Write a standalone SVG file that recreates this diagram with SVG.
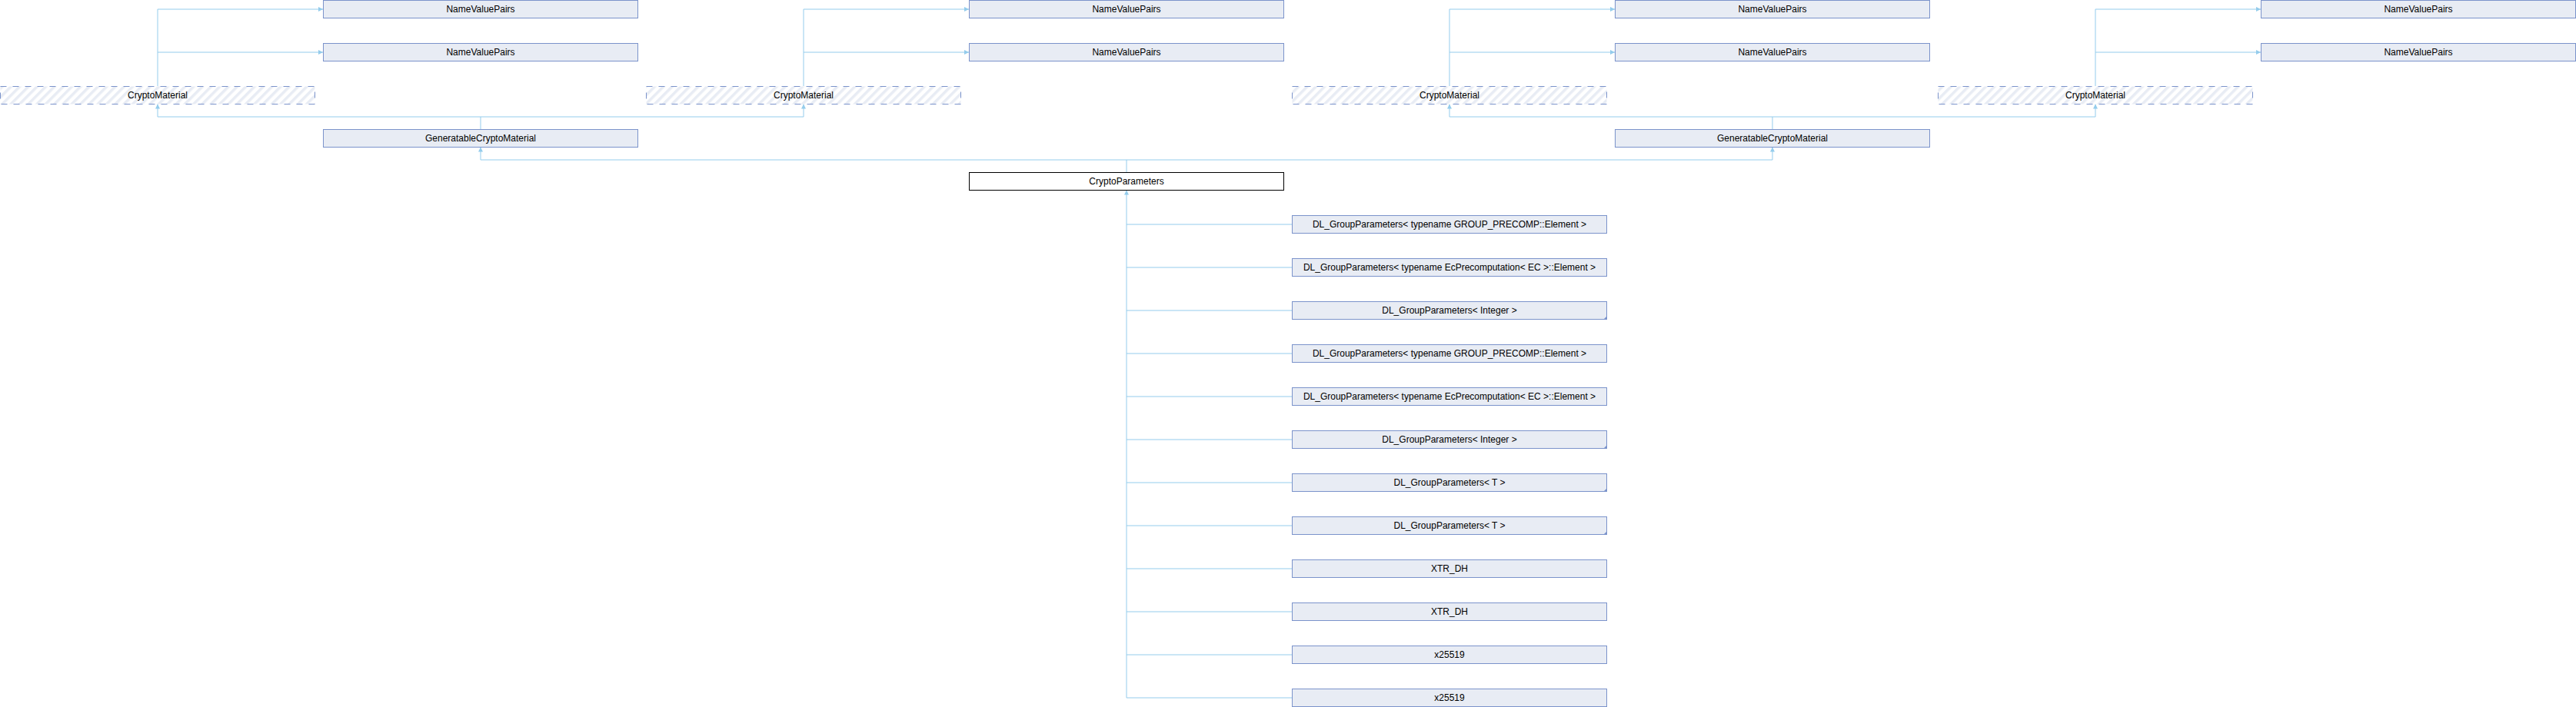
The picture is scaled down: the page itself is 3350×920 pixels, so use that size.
<svg xmlns="http://www.w3.org/2000/svg" width="3350" height="920" viewBox="0 0 3350 920">
<style>
.n rect.b{fill:#E8ECF4;stroke:#7B93CB;stroke-width:1}
.n text,.h text,.c text{font-family:"Liberation Sans",Arial,sans-serif;font-size:12px;fill:#000;text-anchor:middle}
.h rect.b{fill:url(#hatch);stroke:#7B93CB;stroke-width:1;stroke-dasharray:8 8}
.c rect.b{fill:#fff;stroke:#000;stroke-width:1}
.corner{fill:#7B93CB}
#edges path{fill:none;stroke:#94CCEC;stroke-width:1}
#edges path.a{marker-end:url(#arr)}
</style>
<defs>
<pattern id="hatch" patternUnits="userSpaceOnUse" width="8" height="8" patternTransform="rotate(45)">
<rect x="0" y="0" width="8" height="8" fill="#fff"/>
<rect x="0" y="0" width="3.5" height="8" fill="#E8ECF4"/>
</pattern>
<marker id="arr" markerUnits="userSpaceOnUse" markerWidth="8" markerHeight="8" refX="6" refY="3" orient="auto">
<path d="M0,0 L6,3 L0,6 z" fill="#94CCEC"/>
</marker>
</defs>
<rect width="3350" height="920" fill="#fff"/>
<g id="edges">
<path class="a" d="M205,112 V12 H420"/>
<path class="a" d="M205,68 H420"/>
<path class="a" d="M1045,112 V12 H1260"/>
<path class="a" d="M1045,68 H1260"/>
<path class="a" d="M1885,112 V12 H2100"/>
<path class="a" d="M1885,68 H2100"/>
<path class="a" d="M2725,112 V12 H2940"/>
<path class="a" d="M2725,68 H2940"/>
<path class="a" d="M625,168 V152 H205 V135.5"/>
<path class="a" d="M625,152 H1045 V135.5"/>
<path class="a" d="M2305,168 V152 H1885 V135.5"/>
<path class="a" d="M2305,152 H2725 V135.5"/>
<path class="a" d="M1465,224 V208 H625 V191.5"/>
<path class="a" d="M1465,208 H2305 V191.5"/>
<path class="a" d="M1680,908 H1465 V247.5"/>
<path d="M1680,292 H1465"/>
<path d="M1680,348 H1465"/>
<path d="M1680,404 H1465"/>
<path d="M1680,460 H1465"/>
<path d="M1680,516 H1465"/>
<path d="M1680,572 H1465"/>
<path d="M1680,628 H1465"/>
<path d="M1680,684 H1465"/>
<path d="M1680,740 H1465"/>
<path d="M1680,796 H1465"/>
<path d="M1680,852 H1465"/>
</g>
<g id="nvp1" class="n"><rect class="b" x="420.5" y="0.5" width="409" height="23"/><text x="625" y="16">NameValuePairs</text></g>
<g id="nvp2" class="n"><rect class="b" x="420.5" y="56.5" width="409" height="23"/><text x="625" y="72">NameValuePairs</text></g>
<g id="nvp3" class="n"><rect class="b" x="1260.5" y="0.5" width="409" height="23"/><text x="1465" y="16">NameValuePairs</text></g>
<g id="nvp4" class="n"><rect class="b" x="1260.5" y="56.5" width="409" height="23"/><text x="1465" y="72">NameValuePairs</text></g>
<g id="nvp5" class="n"><rect class="b" x="2100.5" y="0.5" width="409" height="23"/><text x="2305" y="16">NameValuePairs</text></g>
<g id="nvp6" class="n"><rect class="b" x="2100.5" y="56.5" width="409" height="23"/><text x="2305" y="72">NameValuePairs</text></g>
<g id="nvp7" class="n"><rect class="b" x="2940.5" y="0.5" width="409" height="23"/><text x="3145" y="16">NameValuePairs</text></g>
<g id="nvp8" class="n"><rect class="b" x="2940.5" y="56.5" width="409" height="23"/><text x="3145" y="72">NameValuePairs</text></g>
<g id="cm1" class="h"><rect class="b" x="0.5" y="112.5" width="409" height="23"/><text x="205" y="128">CryptoMaterial</text></g>
<g id="cm2" class="h"><rect class="b" x="840.5" y="112.5" width="409" height="23"/><text x="1045" y="128">CryptoMaterial</text></g>
<g id="cm3" class="h"><rect class="b" x="1680.5" y="112.5" width="409" height="23"/><text x="1885" y="128">CryptoMaterial</text></g>
<g id="cm4" class="h"><rect class="b" x="2520.5" y="112.5" width="409" height="23"/><text x="2725" y="128">CryptoMaterial</text></g>
<g id="gcm1" class="n"><rect class="b" x="420.5" y="168.5" width="409" height="23"/><text x="625" y="184">GeneratableCryptoMaterial</text></g>
<g id="gcm2" class="n"><rect class="b" x="2100.5" y="168.5" width="409" height="23"/><text x="2305" y="184">GeneratableCryptoMaterial</text></g>
<g id="cp" class="c"><rect class="b" x="1260.5" y="224.5" width="409" height="23"/><text x="1465" y="240">CryptoParameters</text></g>
<g id="dl1" class="n"><rect class="b" x="1680.5" y="280.5" width="409" height="23"/><text x="1885" y="296">DL_GroupParameters&lt; typename GROUP_PRECOMP::Element &gt;</text></g>
<g id="dl2" class="n"><rect class="b" x="1680.5" y="336.5" width="409" height="23"/><text x="1885" y="352">DL_GroupParameters&lt; typename EcPrecomputation&lt; EC &gt;::Element &gt;</text></g>
<g id="dl3" class="n"><rect class="b" x="1680.5" y="392.5" width="409" height="23"/><text x="1885" y="408">DL_GroupParameters&lt; Integer &gt;</text><path class="corner" d="M2090,411 V416 H2085 z"/></g>
<g id="dl4" class="n"><rect class="b" x="1680.5" y="448.5" width="409" height="23"/><text x="1885" y="464">DL_GroupParameters&lt; typename GROUP_PRECOMP::Element &gt;</text></g>
<g id="dl5" class="n"><rect class="b" x="1680.5" y="504.5" width="409" height="23"/><text x="1885" y="520">DL_GroupParameters&lt; typename EcPrecomputation&lt; EC &gt;::Element &gt;</text></g>
<g id="dl6" class="n"><rect class="b" x="1680.5" y="560.5" width="409" height="23"/><text x="1885" y="576">DL_GroupParameters&lt; Integer &gt;</text><path class="corner" d="M2090,579 V584 H2085 z"/></g>
<g id="dl7" class="n"><rect class="b" x="1680.5" y="616.5" width="409" height="23"/><text x="1885" y="632">DL_GroupParameters&lt; T &gt;</text><path class="corner" d="M2090,635 V640 H2085 z"/></g>
<g id="dl8" class="n"><rect class="b" x="1680.5" y="672.5" width="409" height="23"/><text x="1885" y="688">DL_GroupParameters&lt; T &gt;</text><path class="corner" d="M2090,691 V696 H2085 z"/></g>
<g id="xtr1" class="n"><rect class="b" x="1680.5" y="728.5" width="409" height="23"/><text x="1885" y="744">XTR_DH</text></g>
<g id="xtr2" class="n"><rect class="b" x="1680.5" y="784.5" width="409" height="23"/><text x="1885" y="800">XTR_DH</text></g>
<g id="x1" class="n"><rect class="b" x="1680.5" y="840.5" width="409" height="23"/><text x="1885" y="856">x25519</text></g>
<g id="x2" class="n"><rect class="b" x="1680.5" y="896.5" width="409" height="23"/><text x="1885" y="912">x25519</text></g>
</svg>
